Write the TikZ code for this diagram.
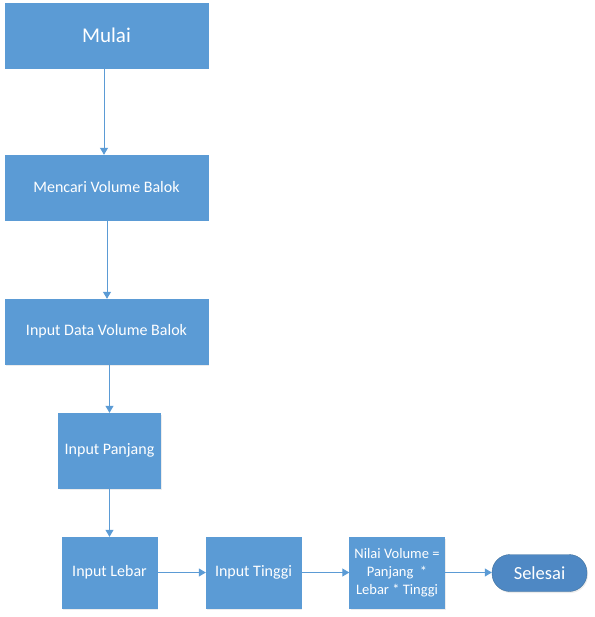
\documentclass[tikz,border=0pt]{standalone}
\usepackage{fontspec}
\setmainfont{Carlito}
\usetikzlibrary{arrows, arrows.meta, shadows}

\definecolor{boxblue}{HTML}{5B9BD5}
\definecolor{endblue}{HTML}{4E88C4}
\definecolor{endline}{HTML}{41719C}

\tikzset{
    prosesbox/.style={draw=boxblue, fill=boxblue, text=white, align=center,
        inner sep=0pt, font=\fontsize{16}{18}\selectfont,
        drop shadow={opacity=0.15, shadow xshift=1pt, shadow yshift=-1.5pt}},
    ujungbox/.style={draw=endline, fill=endblue, text=white, align=center,
        inner sep=0pt, rounded corners=18pt, font=\fontsize{18.5}{22}\selectfont,
        drop shadow={opacity=0.15, shadow xshift=1pt, shadow yshift=-1.5pt}},
    alur/.style={draw=boxblue, line width=1pt, -{Triangle[width=8pt, length=7pt]}}
}

\begin{document}
\begin{tikzpicture}[x=1pt, y=-1pt]
    \useasboundingbox (0,0) rectangle (594,617);

    \node[prosesbox, minimum width=203pt, minimum height=65pt, font=\fontsize{21}{24}\selectfont] (mulai) at (106.5, 35.5) {Mulai};
    \node[prosesbox, minimum width=203pt, minimum height=65pt] (mencari) at (106.5, 187.5) {Mencari Volume Balok};
    \node[prosesbox, minimum width=203pt, minimum height=65pt] (inputdata) at (106.5, 331.5) {Input Data Volume Balok};
    \node[prosesbox, minimum width=102pt, minimum height=75pt] (panjang) at (109.5, 450.5) {Input Panjang};
    \node[prosesbox, minimum width=95pt, minimum height=71pt] (lebar) at (109.5, 572.5) {Input Lebar};
    \node[prosesbox, minimum width=95pt, minimum height=71pt] (tinggi) at (253.5, 572.5) {Input Tinggi};
    \node[prosesbox, minimum width=95pt, minimum height=71pt, font=\fontsize{14.5}{18}\selectfont] (nilai) at (397, 572.5) {Nilai Volume =\\Panjang~~*\\Lebar * Tinggi};
    \node[ujungbox, minimum width=95pt, minimum height=37pt] (selesai) at (539.5, 573) {Selesai};

    \draw[alur] (mulai.south -| 104,0) -- (mencari.north -| 104,0);
    \draw[alur] (mencari.south -| 107,0) -- (inputdata.north -| 107,0);
    \draw[alur] (inputdata.south -| 109.5,0) -- (panjang.north);
    \draw[alur] (panjang.south) -- (lebar.north);
    \draw[alur] (lebar) -- (tinggi);
    \draw[alur] (tinggi) -- (nilai);
    \draw[alur] (nilai) -- (nilai -| selesai.west);

\end{tikzpicture}
\end{document}
